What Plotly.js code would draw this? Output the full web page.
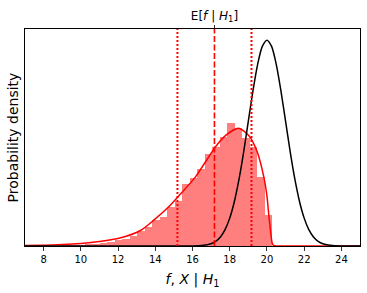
<!DOCTYPE html>
<html>
<head>
<meta charset="utf-8">
<script src="https://cdn.plot.ly/plotly-3.0.1.min.js"></script>
<style>
html,body{margin:0;padding:0;background:#fff;}
#chart{width:367px;height:293px;}
</style>
</head>
<body>
<div id="chart"></div>
<script>
// Histogram of samples f | H1 (bin centres and densities)
const binWidth = 0.4033;
const binCenters = [7.58, 7.98, 8.39, 8.79, 9.19, 9.60, 10.00, 10.40, 10.81, 11.21, 11.61, 12.02, 12.42, 12.82, 13.23, 13.63, 14.03, 14.44, 14.84, 15.24, 15.65, 16.05, 16.45, 16.86, 17.26, 17.66, 18.07, 18.47, 18.87, 19.27, 19.68, 20.08];
const binDensity = [0.0002, 0.0004, 0.0006, 0.0008, 0.0012, 0.0017, 0.0023, 0.0033, 0.0045, 0.0058, 0.0078, 0.0107, 0.0136, 0.0194, 0.0291, 0.0368, 0.0504, 0.0562, 0.0762, 0.0872, 0.1202, 0.1312, 0.1492, 0.1777, 0.1924, 0.2107, 0.2390, 0.2281, 0.2099, 0.1924, 0.1343, 0.0601];

// Smoothed density of f | H1 (red curve)
const kdeX = [7.0, 8.0, 9.0, 10.0, 11.0, 12.1, 13.2, 13.92, 14.64, 15.26, 16.16, 17.23, 17.77, 18.48, 19.02, 19.47, 19.83, 20.0, 20.10, 20.2, 20.28, 20.36, 20.5, 22.0, 25.0];
const kdeY = [0.0008, 0.0015, 0.0028, 0.0050, 0.0088, 0.0155, 0.030, 0.050, 0.073, 0.097, 0.134, 0.192, 0.214, 0.228, 0.214, 0.183, 0.134, 0.097, 0.060, 0.027, 0.006, 0.001, 0.0, 0.0, 0.0];

// Density of X | H1 (black curve)
const xX = [7.0, 15.0, 16.0, 16.5, 17.0, 17.25, 17.5, 17.75, 18.0, 18.25, 18.5, 18.75, 19.0, 19.25, 19.5, 19.75, 20.0, 20.25, 20.5, 20.75, 21.0, 21.25, 21.5, 21.75, 22.0, 22.25, 22.5, 22.75, 23.0, 23.5, 24.0, 25.0];
const xY = [0.0, 0.0, 0.0001, 0.0009, 0.0044, 0.0091, 0.0175, 0.0317, 0.0540, 0.0863, 0.1295, 0.1826, 0.2420, 0.3011, 0.3521, 0.3867, 0.3989, 0.3867, 0.3521, 0.3011, 0.2420, 0.1826, 0.1295, 0.0863, 0.0540, 0.0317, 0.0175, 0.0091, 0.0044, 0.0009, 0.0001, 0.0];

// Summary statistics
const meanF = 17.18;
const lowF = 15.19;
const highF = 19.17;

const xTicks = [8, 10, 12, 14, 16, 18, 20, 22, 24];
const xRange = [7, 25];
const yRange = [0, 0.4205];

const traces = [
  {type: 'bar', x: binCenters, y: binDensity, width: binWidth,
   marker: {color: 'rgba(255,0,0,0.5)', line: {width: 0}}, hoverinfo: 'skip'},
  {type: 'scatter', mode: 'lines', x: kdeX, y: kdeY,
   line: {color: '#ff0000', width: 1.5, shape: 'spline', smoothing: 0.7}},
  {type: 'scatter', mode: 'lines', x: xX, y: xY,
   line: {color: '#000000', width: 1.5, shape: 'spline', smoothing: 0.7}},
  {type: 'scatter', mode: 'markers', x: [meanF], y: [0], xaxis: 'x2',
   marker: {opacity: 0}, hoverinfo: 'skip'}
];

const vline = (x, dash, w) => ({type: 'line', xref: 'x', yref: 'paper', x0: x, x1: x, y0: 0, y1: 1,
  line: {color: '#ff0000', width: w, dash: dash}});

const layout = {
  width: 367, height: 293,
  margin: {l: 25, r: 7, t: 29, b: 47},
  paper_bgcolor: '#ffffff', plot_bgcolor: '#ffffff',
  showlegend: false,
  bargap: 0,
  font: {family: 'DejaVu Sans', color: '#000'},
  xaxis: {
    range: xRange, tickvals: xTicks, ticktext: xTicks.map(String),
    ticks: 'outside', ticklen: 3.5, tickwidth: 0.8, tickcolor: '#000',
    tickfont: {size: 10, family: 'DejaVu Sans'},
    showgrid: false, zeroline: false,
    showline: true, linecolor: '#000', linewidth: 1, mirror: true,
    title: {text: '<i>f</i>, <i>X</i> | <i>H</i><sub>1</sub>', font: {size: 14, family: 'DejaVu Sans'}, standoff: 10}
  },
  xaxis2: {
    overlaying: 'x', side: 'top', range: xRange,
    tickvals: [meanF], ticktext: ['E[<i>f</i> | <i>H</i><sub>1</sub>]'],
    ticks: 'outside', ticklen: 3.5, tickwidth: 0.8, tickcolor: '#000',
    tickfont: {size: 12, family: 'DejaVu Sans'},
    showgrid: false, zeroline: false, showline: false
  },
  yaxis: {
    range: yRange, showticklabels: false, ticks: '',
    showgrid: false, zeroline: false,
    showline: true, linecolor: '#000', linewidth: 1, mirror: true,
    title: {text: 'Probability density', font: {size: 14, family: 'DejaVu Sans'}, standoff: 2}
  },
  shapes: [vline(meanF, '6px,2.5px', 1.6), vline(lowF, '2px,2px', 2), vline(highF, '2px,2px', 2)]
};

Plotly.newPlot('chart', traces, layout, {staticPlot: true, displayModeBar: false});
</script>
</body>
</html>
